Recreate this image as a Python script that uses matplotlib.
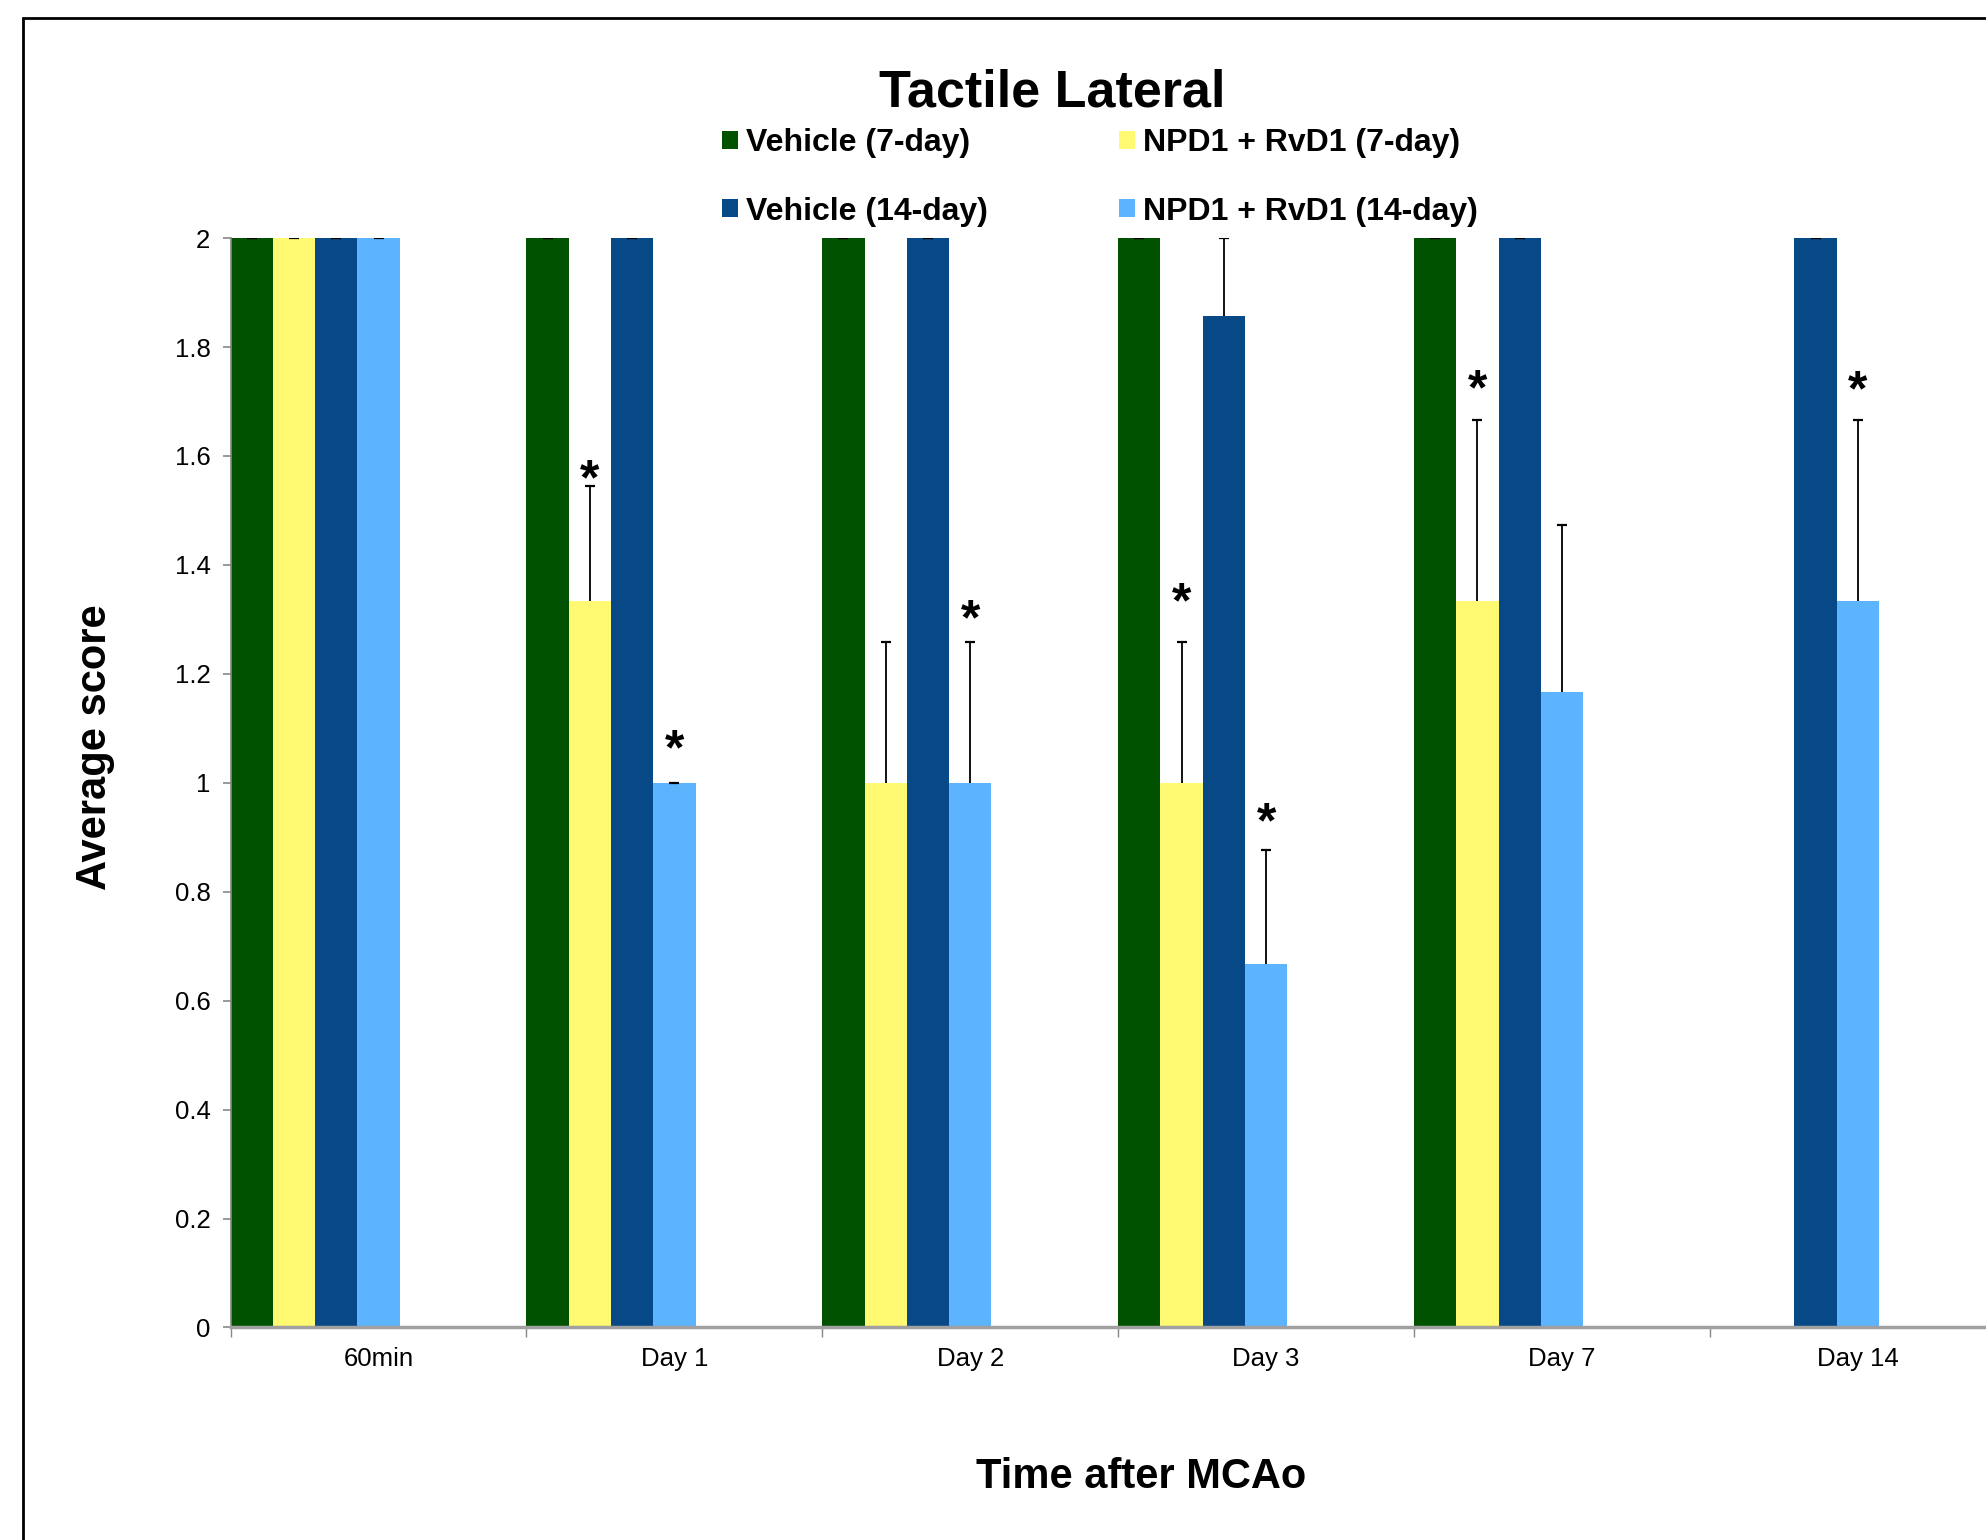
import numpy as np
import matplotlib
matplotlib.use('Agg')
import matplotlib.pyplot as plt
from matplotlib.patches import Rectangle, Patch

plt.rcParams['font.family'] = ['Liberation Sans', 'DejaVu Sans']

# data
categories = ['60min', 'Day 1', 'Day 2', 'Day 3', 'Day 7', 'Day 14']
series_names = ['Vehicle (7-day)', 'NPD1 + RvD1 (7-day)', 'Vehicle (14-day)', 'NPD1 + RvD1 (14-day)']
veh7 = [2, 2, 2, 2, 2, np.nan]
npd7 = [2, 1.333, 1.0, 1.0, 1.333, np.nan]
veh14 = [2, 2, 2, 1.857, 2, 2]
npd14 = [2, 1.0, 1.0, 0.667, 1.167, 1.333]
veh7_err = [0, 0, 0, 0, 0, np.nan]
npd7_err = [0, 0.211, 0.258, 0.258, 0.333, np.nan]
veh14_err = [0, 0, 0, 0.143, 0, 0]
npd14_err = [0, 0, 0.258, 0.21, 0.307, 0.333]
# significance stars: (series index, category index, height of star centre)
stars = [(1, 1, 1.571), (3, 1, 1.075), (3, 2, 1.314), (1, 3, 1.345),
         (3, 3, 0.941), (1, 4, 1.736), (3, 5, 1.734)]

colors = ['#005100', '#fffa72', '#074886', '#5cb4ff']
values = [veh7, npd7, veh14, npd14]
errors = [veh7_err, npd7_err, veh14_err, npd14_err]

fig = plt.figure(figsize=(19.86, 15.4), dpi=100)
ax = fig.add_axes([0.1161, 0.138, 1 - 0.1161, 0.8454 - 0.138])

w = 1 / 7
x = np.arange(len(categories))
handles = []
for k in range(4):
    xs = x + (k + 0.5) * w
    v = np.array(values[k], dtype=float)
    e = np.array(errors[k], dtype=float)
    ax.bar(xs, v, width=w, color=colors[k], edgecolor='none', zorder=2)
    ok = ~np.isnan(v)
    eb = ax.errorbar(xs[ok], v[ok], yerr=[np.zeros(ok.sum()), e[ok]], fmt='none',
                     ecolor='black', elinewidth=1.3, capsize=3.6, capthick=1.6, zorder=3)
    eb[1][0].set_visible(False)  # no cap at the bar top
    handles.append(Patch(facecolor=colors[k], edgecolor='none', label=series_names[k]))

star_size = 36
for k, i, sy in stars:
    ax.annotate('*', xy=(i + (k + 0.5) * w, sy), xytext=(0, -0.45 * star_size),
                textcoords='offset points', ha='center', va='baseline',
                fontsize=star_size, fontweight='bold')

ax.set_xlim(0, 5.933)
ax.set_ylim(0, 2)
ax.set_xticks(x)
ax.set_xticklabels([])
ax.set_xticks(x + 0.5, minor=True)
ax.set_xticklabels(categories, minor=True, fontsize=18.5)
ax.tick_params(axis='x', which='major', length=7, width=1, color='#888888', direction='out')
ax.tick_params(axis='x', which='minor', length=0, pad=14)
yt = np.arange(0, 2.01, 0.2)
ax.set_yticks(yt)
ax.set_yticklabels(['%g' % round(t, 1) for t in yt], fontsize=18.5)
ax.tick_params(axis='y', length=5.5, width=1.2, color='#888888', pad=9)
for s in ['top', 'right']:
    ax.spines[s].set_visible(False)
ax.spines['left'].set_color('#888888')
ax.spines['left'].set_linewidth(1.2)
ax.spines['bottom'].set_color('#a0a0a0')
ax.spines['bottom'].set_linewidth(2.5)

fig.text(0.530, 0.931, 'Tactile Lateral', ha='center', va='baseline', fontsize=37.5, fontweight='bold')
fig.text(0.5746, 0.0338, 'Time after MCAo', ha='center', va='baseline', fontsize=30, fontweight='bold')
fig.text(0.0478, 0.515, 'Average score', ha='center', va='center', rotation=90, fontsize=30, fontweight='bold')

fig.legend(handles=[handles[0], handles[2], handles[1], handles[3]], ncol=2,
           loc='upper left', bbox_to_anchor=(0.357, 0.925), frameon=False,
           prop={'size': 23, 'weight': 'bold'}, handlelength=0.5, handleheight=0.5,
           handletextpad=0.25, columnspacing=4.1, labelspacing=1.2, borderaxespad=0)

fig.patches.append(Rectangle((23 / 1986, -0.1), 1.2, 1.1 - 18 / 1540, transform=fig.transFigure,
                             fill=False, edgecolor='black', linewidth=2, clip_on=False))

fig.savefig('out.png', dpi=100)
